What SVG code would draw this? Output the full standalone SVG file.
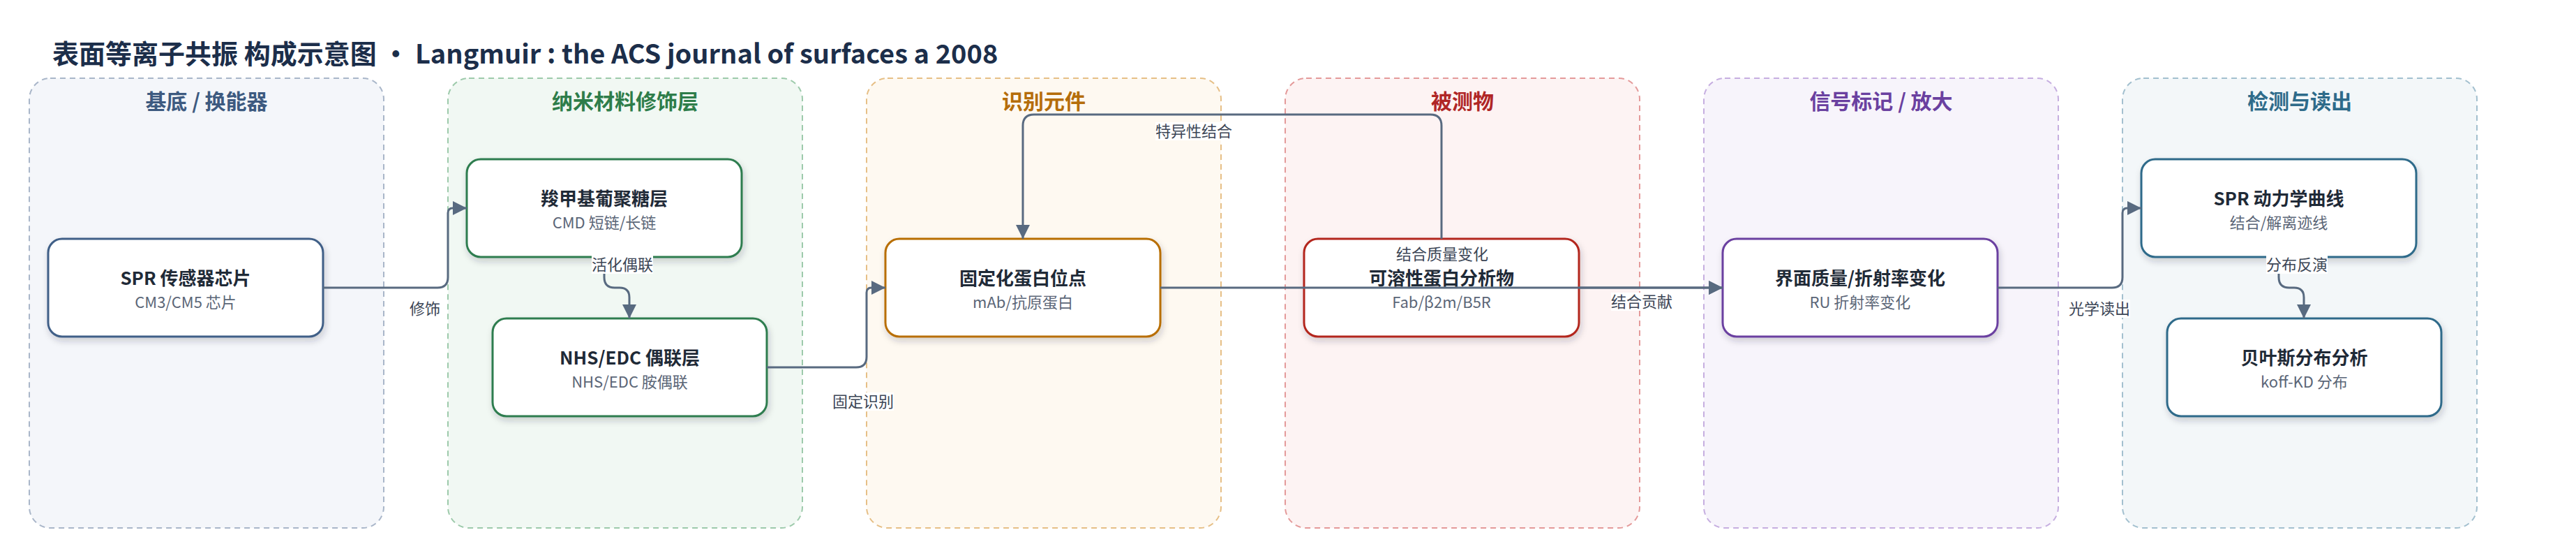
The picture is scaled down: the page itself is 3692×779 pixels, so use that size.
<svg xmlns="http://www.w3.org/2000/svg" width="3692" height="779" viewBox="0 0 3692 779">
<defs>
<filter id="sh" x="-10%" y="-20%" width="120%" height="150%">
<feDropShadow dx="2" dy="5" stdDeviation="5" flood-color="#1e2a3a" flood-opacity="0.2"/>
</filter>
<marker id="arr" viewBox="0 0 20 20" markerWidth="20" markerHeight="20" refX="20" refY="10" orient="auto" markerUnits="userSpaceOnUse">
<path d="M0,0 L20,10 L0,20 z" fill="#586a80"/>
</marker>
</defs>
<style>
text{font-family:"Noto Sans CJK SC","Noto Sans",sans-serif}
.grp{stroke-width:2;stroke-dasharray:8 6}
.gt{font-size:30px;font-weight:700;text-anchor:middle}
.node{fill:#fff;stroke-width:3;filter:url(#sh)}
.nt{font-size:26px;font-weight:700;fill:#1f2a37;text-anchor:middle}
.ns{font-size:22px;fill:#5b6677;text-anchor:middle}
.edge{fill:none;stroke:#586a80;stroke-width:3;marker-end:url(#arr)}
.lb{fill:#fff}
.lt{font-size:22px;fill:#3c4656;text-anchor:middle}
</style>
<rect width="3692" height="779" fill="#fff"/>
<text x="75" y="91" font-size="38" font-weight="700" fill="#1c2e4a">表面等离子共振 构成示意图 · Langmuir : the ACS journal of surfaces a 2008</text>

<g id="groups">
<g id="g1"><rect class="grp" x="42" y="112" width="508" height="644" rx="30" fill="#f4f6fa" stroke="#a9b6c9"/><text class="gt" x="296" y="156" fill="#3d5a80">基底 / 换能器</text></g>
<g id="g2"><rect class="grp" x="642" y="112" width="508" height="644" rx="30" fill="#f1f8f3" stroke="#9dcaab"/><text class="gt" x="896" y="156" fill="#2e7d4a">纳米材料修饰层</text></g>
<g id="g3"><rect class="grp" x="1242" y="112" width="508" height="644" rx="30" fill="#fef9f1" stroke="#e6bf86"/><text class="gt" x="1496" y="156" fill="#b56d0a">识别元件</text></g>
<g id="g4"><rect class="grp" x="1842" y="112" width="508" height="644" rx="30" fill="#fdf3f3" stroke="#e49a9a"/><text class="gt" x="2096" y="156" fill="#b02626">被测物</text></g>
<g id="g5"><rect class="grp" x="2442" y="112" width="508" height="644" rx="30" fill="#f7f4fb" stroke="#c6aee0"/><text class="gt" x="2696" y="156" fill="#6a40a0">信号标记 / 放大</text></g>
<g id="g6"><rect class="grp" x="3042" y="112" width="508" height="644" rx="30" fill="#f3f7f9" stroke="#a3c0cf"/><text class="gt" x="3296" y="156" fill="#2e6b8a">检测与读出</text></g>
</g>

<g id="n1"><rect class="node" x="69" y="342" width="394" height="140" rx="20" stroke="#3f5f87"/><text class="nt" x="266" y="408">SPR 传感器芯片</text><text class="ns" x="266" y="441">CM3/CM5 芯片</text></g>
<g id="n2"><rect class="node" x="669" y="228" width="394" height="140" rx="20" stroke="#2e7d4f"/><text class="nt" x="866" y="294">羧甲基葡聚糖层</text><text class="ns" x="866" y="327">CMD 短链/长链</text></g>
<g id="n3"><rect class="node" x="706" y="456" width="393" height="140" rx="20" stroke="#2e7d4f"/><text class="nt" x="902.5" y="522">NHS/EDC 偶联层</text><text class="ns" x="902.5" y="555">NHS/EDC 胺偶联</text></g>
<g id="n4"><rect class="node" x="1269" y="342" width="394" height="140" rx="20" stroke="#b86e00"/><text class="nt" x="1466" y="408">固定化蛋白位点</text><text class="ns" x="1466" y="441">mAb/抗原蛋白</text></g>
<g id="n5"><rect class="node" x="1869" y="342" width="394" height="140" rx="20" stroke="#b3261e"/><text class="nt" x="2066" y="408">可溶性蛋白分析物</text><text class="ns" x="2066" y="441">Fab/β2m/B5R</text></g>
<g id="n6"><rect class="node" x="2469" y="342" width="394" height="140" rx="20" stroke="#6b3fa0"/><text class="nt" x="2666" y="408">界面质量/折射率变化</text><text class="ns" x="2666" y="441">RU 折射率变化</text></g>
<g id="n7"><rect class="node" x="3069" y="228" width="394" height="140" rx="20" stroke="#2f6b8a"/><text class="nt" x="3266" y="294">SPR 动力学曲线</text><text class="ns" x="3266" y="327">结合/解离迹线</text></g>
<g id="n8"><rect class="node" x="3106" y="456" width="393" height="140" rx="20" stroke="#2f6b8a"/><text class="nt" x="3302.5" y="522">贝叶斯分布分析</text><text class="ns" x="3302.5" y="555">koff-KD 分布</text></g>

<g id="connectors">
<path class="edge" d="M463,412 L627,412 Q642,412 642,397 L642,305 Q642,298 649,298 L669,298"/>
<path class="edge" d="M866,368 L866,397 Q866,412 881,412 L888,412 Q902,412 902,426 L902,456"/>
<path class="edge" d="M1099,526 L1227,526 Q1242,526 1242,511 L1242,419 Q1242,412 1249,412 L1269,412"/>
<path class="edge" d="M2066,342 L2066,180 Q2066,164 2050,164 L1482,164 Q1466,164 1466,180 L1466,342"/>
<path class="edge" d="M1663,412 L2469,412"/>
<path class="edge" d="M2263,412 L2469,412"/>
<path class="edge" d="M2863,412 L3027,412 Q3042,412 3042,397 L3042,305 Q3042,298 3049,298 L3069,298"/>
<path class="edge" d="M3266,368 L3266,397 Q3266,412 3281,412 L3288,412 Q3302,412 3302,426 L3302,456"/>
<g id="labels">
<rect class="lb" x="587" y="429" width="44" height="26"/><text class="lt" x="609" y="450">修饰</text>
<rect class="lb" x="848" y="366" width="88" height="26"/><text class="lt" x="892" y="387">活化偶联</text>
<rect class="lb" x="1193" y="562" width="88" height="26"/><text class="lt" x="1237" y="583">固定识别</text>
<rect class="lb" x="1656" y="175" width="110" height="26"/><text class="lt" x="1711" y="196">特异性结合</text>
<rect class="lb" x="2001" y="351" width="132" height="26"/><text class="lt" x="2067" y="372">结合质量变化</text>
<rect class="lb" x="2309" y="419" width="88" height="26"/><text class="lt" x="2353" y="440">结合贡献</text>
<rect class="lb" x="2965" y="429" width="88" height="26"/><text class="lt" x="3009" y="450">光学读出</text>
<rect class="lb" x="3248" y="366" width="88" height="26"/><text class="lt" x="3292" y="387">分布反演</text>
</g>
</g>
</svg>
